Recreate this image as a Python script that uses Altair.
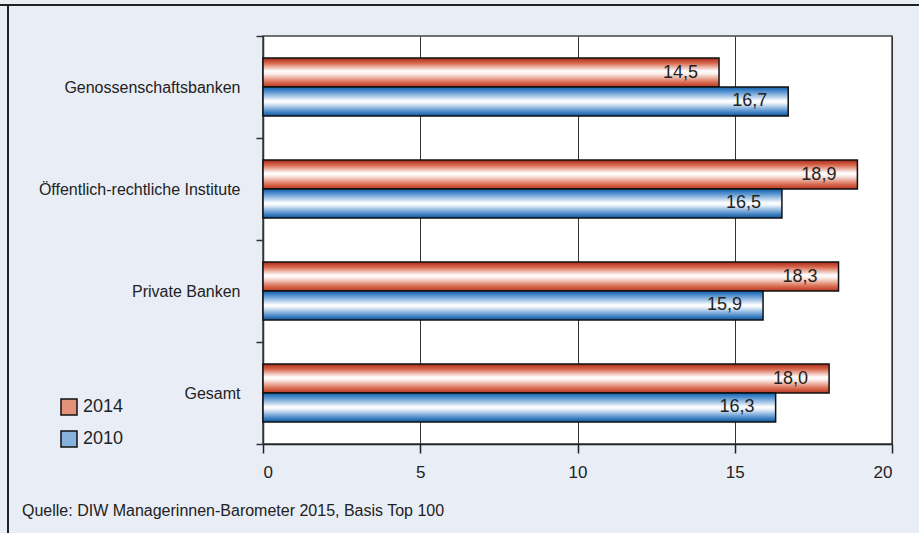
import altair as alt
import pandas as pd

# Share of women on supervisory boards by bank group, in percent
categories = [
    "Genossenschaftsbanken",
    "Öffentlich-rechtliche Institute",
    "Private Banken",
    "Gesamt",
]
years = ["2014", "2010"]
values_2014 = [14.5, 18.9, 18.3, 18.0]
values_2010 = [16.7, 16.5, 15.9, 16.3]
x_ticks = [0, 5, 10, 15, 20]
source_note = "Quelle: DIW Managerinnen-Barometer 2015, Basis Top 100"

rows = []
for cat, a, b in zip(categories, values_2014, values_2010):
    rows.append({"category": cat, "year": "2014", "value": a})
    rows.append({"category": cat, "year": "2010", "value": b})
df = pd.DataFrame(rows)
df["label"] = df["value"].map(lambda v: f"{v:.1f}".replace(".", ","))

FONT = "Liberation Sans"
BG = "#e9edf6"

red_grad = {
    "gradient": "linear", "x1": 0, "x2": 0, "y1": 0, "y2": 1,
    "stops": [
        {"offset": 0.0, "color": "#a82a18"},
        {"offset": 0.18, "color": "#d9694f"},
        {"offset": 0.45, "color": "#ffffff"},
        {"offset": 0.55, "color": "#fbeee9"},
        {"offset": 0.82, "color": "#dc7258"},
        {"offset": 1.0, "color": "#b8361f"},
    ],
}
blue_grad = {
    "gradient": "linear", "x1": 0, "x2": 0, "y1": 0, "y2": 1,
    "stops": [
        {"offset": 0.0, "color": "#0f5fae"},
        {"offset": 0.18, "color": "#5d98d2"},
        {"offset": 0.48, "color": "#ffffff"},
        {"offset": 0.56, "color": "#eef4fb"},
        {"offset": 0.82, "color": "#5a95d0"},
        {"offset": 1.0, "color": "#0a559e"},
    ],
}

y_enc = alt.Y(
    "category:N",
    sort=categories,
    scale=alt.Scale(paddingInner=0, paddingOuter=0),
    axis=alt.Axis(
        title=None,
        tickBand="extent",
        tickSize=7,
        tickColor="#333",
        tickWidth=1.5,
        domainColor="#333",
        domainWidth=1.5,
        labelFont=FONT,
        labelFontSize=16,
        labelColor="#222",
        labelPadding=16,
        labelLimit=400,
    ),
)
yoff_enc = alt.YOffset(
    "year:N",
    sort=years,
    scale=alt.Scale(domain=years, paddingInner=0, paddingOuter=0.76),
)
x_enc = alt.X(
    "value:Q",
    scale=alt.Scale(domain=[0, 20], nice=False),
    axis=alt.Axis(
        title=None,
        values=x_ticks,
        grid=True,
        gridColor="#333",
        gridWidth=1,
        tickSize=9,
        tickColor="#222",
        tickWidth=1.5,
        domainColor="#222",
        domainWidth=1.5,
        labelFont=FONT,
        labelFontSize=17,
        labelColor="#222",
        labelPadding=11,
    ),
)

base = alt.Chart(df)

bars = base.mark_bar(stroke="#111", strokeWidth=1.5).encode(
    y=y_enc,
    yOffset=yoff_enc,
    x=x_enc,
    color=alt.condition("datum.year === '2014'", alt.value(red_grad), alt.value(blue_grad)),
)

labels = base.mark_text(
    align="right", baseline="middle", dx=-21, font=FONT, fontSize=18, color="#222"
).encode(
    y=alt.Y("category:N", sort=categories),
    yOffset=alt.YOffset("year:N", sort=years),
    x="value:Q",
    text="label:N",
)

# invisible layer that only carries the year legend
legend_layer = base.mark_square(opacity=0).encode(
    y=alt.Y("category:N", sort=categories),
    x="value:Q",
    color=alt.Color(
        "year:N",
        sort=years,
        scale=alt.Scale(domain=years, range=["#e4917a", "#86b2dd"]),
        legend=alt.Legend(
            title=None,
            orient="none",
            legendX=-203,
            legendY=362,
            symbolType="square",
            symbolSize=256,
            symbolOpacity=1,
            symbolStrokeColor="#111",
            symbolStrokeWidth=1.5,
            labelFont=FONT,
            labelFontSize=18,
            labelColor="#222",
            labelOffset=5,
            rowPadding=10,
            padding=0,
        ),
    ),
)

frame_df = pd.DataFrame({"k": [0]})
frame_top = alt.Chart(frame_df).mark_rule(color="#222", strokeWidth=2).encode(
    x=alt.value(-263), x2=alt.value(656), y=alt.value(-31)
)
frame_left = alt.Chart(frame_df).mark_rule(color="#222", strokeWidth=2).encode(
    x=alt.value(-255), y=alt.value(-31), y2=alt.value(497)
)
note = alt.Chart(pd.DataFrame({"t": [source_note]})).mark_text(
    align="left", baseline="middle", font=FONT, fontSize=16, color="#222"
).encode(x=alt.value(-241), y=alt.value(475), text="t:N")

chart = (
    alt.layer(frame_top, frame_left, legend_layer, bars, labels, note)
    .properties(
        width=629,
        height=408,
        background=BG,
        padding={"left": 263, "top": 36, "right": 27, "bottom": 89},
        autosize=alt.AutoSizeParams(type="none"),
    )
    .configure_view(fill="white", stroke="#444", strokeWidth=1.5)
)

chart.save("out.html", embed_options={"renderer": "svg", "actions": False})
